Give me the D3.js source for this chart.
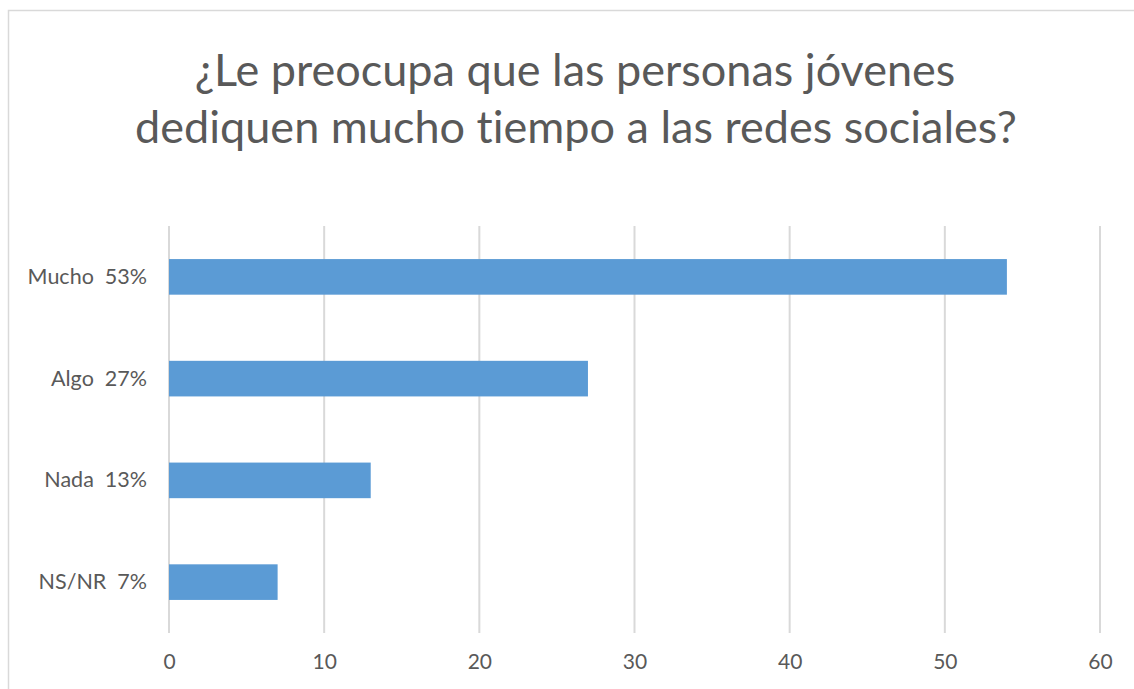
<!DOCTYPE html>
<html><head><meta charset="utf-8">
<script src="https://cdn.jsdelivr.net/npm/d3@7"></script>
<style>html,body{margin:0;background:#fff;overflow:hidden}svg{display:block}text{font-family:Lato,"Open Sans",sans-serif;fill:#595959;font-variant-ligatures:none;font-feature-settings:"liga" 0}</style>
</head><body>
<script>
const categories = ["Mucho  53%", "Algo  27%", "Nada  13%", "NS/NR  7%"];
const values = [54, 27, 13, 7];
const xTicks = [0, 10, 20, 30, 40, 50, 60];
const titleLines = ["¿Le preocupa que las personas jóvenes", "dediquen mucho tiempo a las redes sociales?"];

const W = 1134, H = 689;
const svg = d3.select("body").append("svg").attr("width", W).attr("height", H);
svg.append("path").attr("d", `M8.5,${H + 5}V10.5H${W + 5}`)
  .attr("fill", "none").attr("stroke", "#d9d9d9").attr("stroke-width", 1.5);

const plot = {left: 169, right: 1100, top: 226, bottom: 633};
const x = d3.scaleLinear().domain([0, 60]).range([plot.left, plot.right]);
const y = d3.scaleBand().domain(categories).range([plot.top, plot.bottom]).paddingInner(0.65).paddingOuter(0.325);

// gridlines
svg.append("g").selectAll("line").data(xTicks).join("line")
  .attr("x1", d => x(d)).attr("x2", d => x(d)).attr("y1", plot.top).attr("y2", plot.bottom)
  .attr("stroke", "#d9d9d9").attr("stroke-width", 2);

// bars
svg.append("g").selectAll("rect").data(values).join("rect")
  .attr("x", x(0)).attr("y", (d, i) => y(categories[i]))
  .attr("width", d => x(d) - x(0)).attr("height", y.bandwidth())
  .attr("fill", "#5b9bd5");

// x axis labels
const xAxis = d3.axisBottom(x).tickValues(xTicks).tickSize(0).tickPadding(0);
const gx = svg.append("g").attr("transform", `translate(0,${plot.bottom + 21})`).call(xAxis);
gx.select(".domain").remove();
gx.selectAll("text").style("font-size", "21px").style("fill", "#595959").attr("dy", "0.71em")
  .style("font-family", "Lato, 'Open Sans', sans-serif");

// y axis labels
const yAxis = d3.axisLeft(y).tickSize(0).tickPadding(0);
const gy = svg.append("g").attr("transform", `translate(${plot.left - 22},0)`).call(yAxis);
gy.select(".domain").remove();
gy.selectAll("text").style("font-size", "21.5px").style("fill", "#595959")
  .style("font-family", "Lato, 'Open Sans', sans-serif").style("white-space", "pre");

// title
const tl = svg.append("g");
const t1 = tl.append("text").attr("x", 575).attr("y", 86).attr("text-anchor", "middle").style("font-size", "42px").text(titleLines[0]);
const t2 = tl.append("text").attr("x", 576).attr("y", 143).attr("text-anchor", "middle").style("font-size", "42px").text(titleLines[1]);
const target = 882;
const w = t2.node().getComputedTextLength();
const fs = 42 * target / w;
t1.style("font-size", fs + "px"); t2.style("font-size", fs + "px");
</script>
</body></html>
